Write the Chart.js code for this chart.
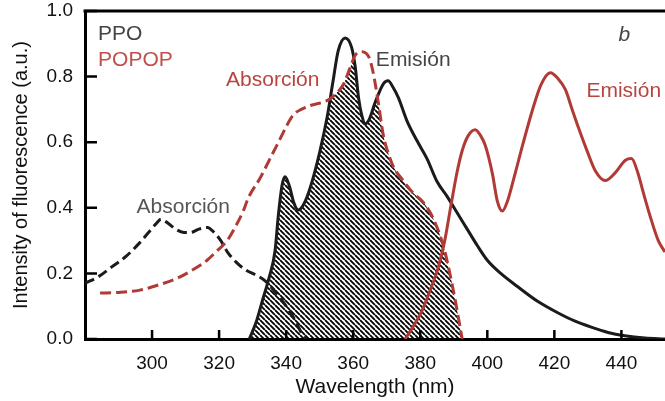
<!DOCTYPE html>
<html>
<head>
<meta charset="utf-8">
<script src="https://cdn.jsdelivr.net/npm/chart.js@4"></script>
<style>
  html, body { margin: 0; padding: 0; background: #fff; }
  canvas { display: block; }
</style>
</head>
<body>
<canvas id="spectra-chart" width="665" height="401"></canvas>
<script>
// PPO absorption (dashed black)
const ppoAbsNm = [280, 284, 288, 292, 296, 299.4, 301.5, 302.7, 304.5, 307, 309.5, 311.5, 314, 316.5, 318.5, 320.5, 322.5, 325, 328, 331, 334, 337, 340, 342.5, 344.5, 346];
const ppoAbsVal = [0.17, 0.19, 0.22, 0.25, 0.29, 0.33, 0.355, 0.365, 0.355, 0.335, 0.325, 0.325, 0.335, 0.34, 0.325, 0.30, 0.265, 0.235, 0.21, 0.195, 0.175, 0.14, 0.10, 0.06, 0.02, 0.0];

// PPO emission (solid black)
const ppoEmNm = [329, 331, 333, 335, 336.7, 337.6, 338.8, 339.7, 341, 342.3, 343.6, 345.2, 347.2, 350.1, 352.2, 354, 355.5, 357.6, 359.5, 360.6, 361.6, 362.6, 363.6, 364.8, 366.5, 369, 370.4, 372, 373.5, 376, 379, 382, 385, 388, 391, 394, 397, 400, 404, 409, 415, 421, 426, 431, 436, 441, 447, 453];
const ppoEmVal = [0.0, 0.05, 0.12, 0.19, 0.27, 0.37, 0.47, 0.495, 0.465, 0.415, 0.393, 0.41, 0.462, 0.574, 0.675, 0.787, 0.878, 0.918, 0.89, 0.83, 0.735, 0.68, 0.656, 0.67, 0.72, 0.778, 0.787, 0.765, 0.735, 0.666, 0.605, 0.55, 0.48, 0.435, 0.385, 0.335, 0.285, 0.24, 0.20, 0.16, 0.115, 0.08, 0.055, 0.036, 0.02, 0.01, 0.003, 0.0];

// POPOP absorption (dashed red)
const popopAbsNm = [284.5, 290, 296.4, 302, 307.5, 312, 316.4, 319.5, 322.4, 325, 327.2, 328.7, 332.2, 335.2, 338.2, 340.4, 342.3, 344.5, 347.2, 352, 354, 357, 359, 360.6, 362.6, 364.8, 366, 367.5, 369, 370.5, 372, 375, 377.6, 380.6, 383, 385.4, 387, 388.4, 390.4, 392.5];
const popopAbsVal = [0.14, 0.142, 0.149, 0.165, 0.185, 0.21, 0.24, 0.27, 0.30, 0.345, 0.39, 0.43, 0.49, 0.55, 0.61, 0.655, 0.685, 0.70, 0.712, 0.726, 0.74, 0.775, 0.825, 0.865, 0.876, 0.857, 0.81, 0.72, 0.62, 0.565, 0.525, 0.482, 0.448, 0.42, 0.385, 0.33, 0.28, 0.22, 0.12, 0.0];

// POPOP emission (solid red)
const popopEmNm = [375.5, 378, 380.6, 383, 385.4, 387.3, 389.2, 391, 392.5, 394.3, 396.4, 398, 399.4, 401.5, 403, 404.5, 406, 407.5, 410.5, 413.4, 416, 418.8, 421, 423.3, 425.3, 427.2, 429.7, 432.2, 435.2, 438, 441.2, 443, 444.8, 446.3, 447.2, 449, 451, 453];
const popopEmVal = [0.0, 0.04, 0.088, 0.15, 0.219, 0.30, 0.41, 0.51, 0.574, 0.62, 0.638, 0.62, 0.59, 0.505, 0.42, 0.39, 0.42, 0.474, 0.59, 0.696, 0.775, 0.812, 0.795, 0.76, 0.70, 0.644, 0.575, 0.513, 0.483, 0.505, 0.545, 0.55, 0.51, 0.455, 0.422, 0.36, 0.30, 0.265];

const xTicks = [300, 320, 340, 360, 380, 400, 420, 440];
const yTicks = [0, 0.2, 0.4, 0.6, 0.8, 1.0];

const RED = '#b03a35';
const INK = '#1b1b1b';

const toPoints = (xs, ys) => xs.map((x, i) => ({x: x, y: ys[i]}));

// text labels placed in data units
const notes = [
  {text: 'PPO', x: 283.9, y: 0.93, color: '#444', align: 'left'},
  {text: 'POPOP', x: 283.9, y: 0.85, color: '#c0504c', align: 'left'},
  {text: 'Absorción', x: 336.0, y: 0.79, color: '#b8443f', align: 'center'},
  {text: 'Emisión', x: 377.9, y: 0.851, color: '#444', align: 'center'},
  {text: 'Emisión', x: 440.7, y: 0.757, color: '#b8443f', align: 'center'},
  {text: 'Absorción', x: 309.3, y: 0.401, color: '#555', align: 'center'},
  {text: 'b', x: 440.9, y: 0.927, color: '#444', align: 'center', italic: true}
];

// diagonal hatch for the overlap region
const tile = document.createElement('canvas');
tile.width = 5;
tile.height = 5;
const tctx = tile.getContext('2d');
tctx.strokeStyle = '#000';
tctx.lineWidth = 1.8;
tctx.beginPath();
for (let k = -1; k <= 1; k++) {
  tctx.moveTo(k * 5, 0);
  tctx.lineTo(k * 5 + 5, 5);
}
tctx.stroke();
const hatch = tctx.createPattern(tile, 'repeat');

function areaPath(ctx, line, base, area) {
  line.updateControlPoints(area, 'x');
  const pts = line.points;
  ctx.beginPath();
  line.path(ctx);
  ctx.lineTo(pts[pts.length - 1].x, base);
  ctx.lineTo(pts[0].x, base);
  ctx.closePath();
}

// hatched area under both PPO emission and POPOP absorption
const overlapHatch = {
  id: 'overlapHatch',
  beforeDatasetsDraw(chart) {
    const {ctx, chartArea} = chart;
    const base = chart.scales.y.getPixelForValue(0);
    ctx.save();
    ctx.beginPath();
    ctx.rect(chartArea.left, chartArea.top, chartArea.right - chartArea.left, chartArea.bottom - chartArea.top);
    ctx.clip();
    areaPath(ctx, chart.getDatasetMeta(2).dataset, base, chartArea);
    ctx.clip();
    areaPath(ctx, chart.getDatasetMeta(0).dataset, base, chartArea);
    ctx.fillStyle = hatch;
    ctx.fill();
    ctx.restore();
  }
};

// frame top, inward tick marks and text labels
const frameAndNotes = {
  id: 'frameAndNotes',
  afterDatasetsDraw(chart) {
    const {ctx, chartArea} = chart;
    const xs = chart.scales.x;
    const ys = chart.scales.y;
    ctx.save();
    ctx.strokeStyle = '#000';
    ctx.lineWidth = 3;
    ctx.beginPath();
    ctx.moveTo(chartArea.left - 1.5, chartArea.top);
    ctx.lineTo(chartArea.right, chartArea.top);
    ctx.stroke();

    ctx.lineWidth = 2.5;
    ctx.beginPath();
    xTicks.forEach(v => {
      const px = xs.getPixelForValue(v);
      ctx.moveTo(px, chartArea.bottom);
      ctx.lineTo(px, chartArea.bottom - 9);
    });
    yTicks.forEach(v => {
      const py = ys.getPixelForValue(v);
      ctx.moveTo(chartArea.left, py);
      ctx.lineTo(chartArea.left + 12, py);
    });
    ctx.stroke();

    ctx.textBaseline = 'middle';
    notes.forEach(n => {
      ctx.font = (n.italic ? 'italic ' : '') + '21px "Liberation Sans", Arial, sans-serif';
      ctx.fillStyle = n.color;
      ctx.textAlign = n.align;
      ctx.fillText(n.text, xs.getPixelForValue(n.x), ys.getPixelForValue(n.y));
    });
    ctx.restore();
  }
};

Chart.defaults.font.family = '"Liberation Sans", Arial, sans-serif';
Chart.defaults.color = '#111';
Chart.defaults.elements.point.radius = 0;

const spectraChart = new Chart(document.getElementById('spectra-chart'), {
  type: 'line',
  data: {
    datasets: [{
      label: 'POPOP absorción',
      data: toPoints(popopAbsNm, popopAbsVal),
      borderColor: RED,
      borderWidth: 3,
      borderDash: [11, 5],
      cubicInterpolationMode: 'monotone'
    }, {
      label: 'POPOP emisión',
      data: toPoints(popopEmNm, popopEmVal),
      borderColor: RED,
      borderWidth: 3,
      cubicInterpolationMode: 'monotone'
    }, {
      label: 'PPO emisión',
      data: toPoints(ppoEmNm, ppoEmVal),
      borderColor: INK,
      borderWidth: 3,
      cubicInterpolationMode: 'monotone'
    }, {
      label: 'PPO absorción',
      data: toPoints(ppoAbsNm, ppoAbsVal),
      borderColor: INK,
      borderWidth: 3,
      borderDash: [10, 5],
      cubicInterpolationMode: 'monotone'
    }]
  },
  options: {
    responsive: false,
    animation: false,
    layout: {padding: {top: 11, right: 0, left: 0, bottom: 0}},
    plugins: {
      legend: {display: false},
      tooltip: {enabled: false}
    },
    scales: {
      x: {
        type: 'linear',
        min: 280,
        max: 453,
        grid: {display: false, drawTicks: false},
        border: {color: '#000', width: 3},
        afterBuildTicks: scale => { scale.ticks = xTicks.map(v => ({value: v})); },
        afterFit: scale => { scale.height = 62; scale.paddingLeft = 0; scale.paddingRight = 0; },
        ticks: {
          padding: 13,
          font: {size: 19},
          color: '#111'
        },
        title: {
          display: true,
          text: 'Wavelength (nm)',
          font: {size: 21},
          color: '#111',
          padding: {top: 0, bottom: 1}
        }
      },
      y: {
        min: 0,
        max: 1,
        grid: {display: false, drawTicks: false},
        border: {color: '#000', width: 3},
        afterBuildTicks: scale => { scale.ticks = yTicks.map(v => ({value: v})); },
        afterFit: scale => { scale.width = 85; scale.paddingTop = 0; scale.paddingBottom = 0; },
        ticks: {
          padding: 12,
          font: {size: 19},
          color: '#111',
          callback: v => v.toFixed(1)
        },
        title: {
          display: true,
          text: 'Intensity of fluorescence (a.u.)',
          font: {size: 20},
          color: '#111',
          padding: {top: 9, bottom: 0}
        }
      }
    }
  },
  plugins: [overlapHatch, frameAndNotes]
});
</script>
</body>
</html>
